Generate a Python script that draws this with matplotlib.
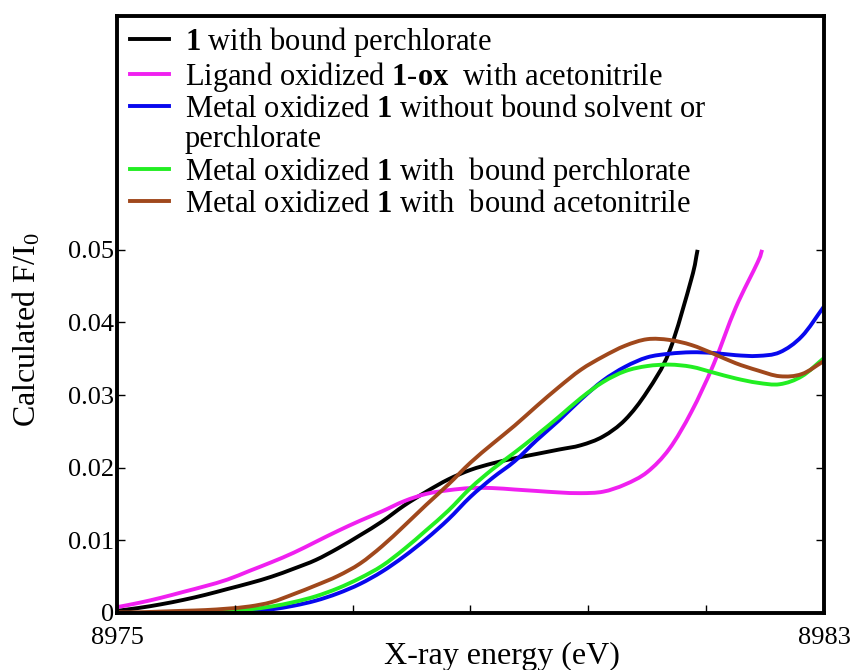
import numpy as np
import matplotlib
matplotlib.use("Agg")
import matplotlib.pyplot as plt
from matplotlib.lines import Line2D
from matplotlib.path import Path
from matplotlib.patches import PathPatch

plt.rcParams['font.family'] = ['Liberation Serif', 'DejaVu Serif']
plt.rcParams['mathtext.fontset'] = 'custom'
plt.rcParams['mathtext.rm'] = 'Liberation Serif'
plt.rcParams['mathtext.it'] = 'Liberation Serif:italic'
plt.rcParams['mathtext.bf'] = 'Liberation Serif:bold'

# ---------------- data ----------------
energy_grid = [8975.00, 8975.25, 8975.50, 8975.75, 8976.00, 8976.25, 8976.50, 8976.75,
               8977.00, 8977.25, 8977.50, 8977.75, 8978.00, 8978.25, 8978.50, 8978.75,
               8979.00, 8979.25, 8979.50, 8979.75, 8980.00, 8980.25, 8980.50, 8980.75,
               8981.00, 8981.25, 8981.50, 8981.75, 8982.00, 8982.25, 8982.50, 8982.75,
               8983.00]

black_x = energy_grid[:27] + [8981.57]
black_y = [0.0003, 0.0007, 0.0012, 0.0018, 0.0025, 0.0033, 0.0041, 0.0050,
           0.0061, 0.0073, 0.0089, 0.0107, 0.0126, 0.0148, 0.0167, 0.0184,
           0.0197, 0.0206, 0.0213, 0.0219, 0.0225, 0.0231, 0.0243, 0.0266,
           0.0305, 0.0360, 0.0460, 0.0500]

magenta_x = energy_grid[:30] + [8982.30]
magenta_y = [0.0008, 0.0014, 0.0021, 0.0029, 0.0037, 0.0046, 0.0058, 0.0070,
             0.0083, 0.0098, 0.0113, 0.0127, 0.0140, 0.0154, 0.0164, 0.0169,
             0.0172, 0.0172, 0.0170, 0.0168, 0.0166, 0.0165, 0.0167, 0.0177,
             0.0194, 0.0226, 0.0277, 0.0342, 0.0420, 0.0483, 0.0500]

blue_x = energy_grid
blue_y = [0.0000, 0.0000, 0.0000, 0.0000, 0.0001, 0.0001, 0.0002, 0.0005,
          0.0010, 0.0017, 0.0027, 0.0040, 0.0057, 0.0078, 0.0102, 0.0129,
          0.0160, 0.0186, 0.0209, 0.0238, 0.0265, 0.0294, 0.0320, 0.0339,
          0.0352, 0.0357, 0.0359, 0.0358, 0.0355, 0.0354, 0.0359, 0.0381,
          0.0422]

green_x = energy_grid
green_y = [0.0000, 0.0000, 0.0000, 0.0001, 0.0002, 0.0003, 0.0005, 0.0009,
           0.0015, 0.0023, 0.0034, 0.0048, 0.0065, 0.0088, 0.0114, 0.0141,
           0.0172, 0.0198, 0.0221, 0.0245, 0.0270, 0.0296, 0.0318, 0.0333,
           0.0340, 0.0342, 0.0339, 0.0331, 0.0323, 0.0317, 0.0315, 0.0326,
           0.0351]

brown_x = energy_grid
brown_y = [0.0001, 0.0001, 0.0002, 0.0003, 0.0004, 0.0006, 0.0009, 0.0015,
           0.0026, 0.0038, 0.0051, 0.0068, 0.0092, 0.0120, 0.0149, 0.0177,
           0.0207, 0.0233, 0.0258, 0.0285, 0.0311, 0.0335, 0.0353, 0.0368,
           0.0377, 0.0376, 0.0369, 0.0357, 0.0344, 0.0334, 0.0326, 0.0329,
           0.0347]

labels = [r'$\mathbf{1}$ with bound perchlorate',
          r'Ligand oxidized $\mathbf{1}$-$\mathbf{ox}$  with acetonitrile',
          r'Metal oxidized $\mathbf{1}$ without bound solvent or',
          'perchlorate',
          r'Metal oxidized $\mathbf{1}$ with  bound perchlorate',
          r'Metal oxidized $\mathbf{1}$ with  bound acetonitrile']

y_ticks = [0, 0.01, 0.02, 0.03, 0.04, 0.05]
y_tick_labels = ['0', '0.01', '0.02', '0.03', '0.04', '0.05']
x_ticks = [8975, 8975 + 4/3, 8975 + 8/3, 8979, 8975 + 16/3, 8975 + 20/3, 8983]
x_tick_labels = ['8975', '', '', '', '', '', '8983']


def smooth_curve(ax, xs, ys, color, lw):
    """Draw a smooth (Catmull-Rom / Bezier) curve through the read points."""
    p = np.column_stack([xs, ys]).astype(float)
    n = len(p)
    ext = np.vstack([p[0] - (p[1] - p[0]), p, p[-1] + (p[-1] - p[-2])])
    verts = [tuple(p[0])]
    codes = [Path.MOVETO]
    for i in range(n - 1):
        p0, p1, p2, p3 = ext[i], ext[i + 1], ext[i + 2], ext[i + 3]
        c1 = p1 + (p2 - p0) / 6.0
        c2 = p2 - (p3 - p1) / 6.0
        verts += [tuple(c1), tuple(c2), tuple(p2)]
        codes += [Path.CURVE4] * 3
    patch = PathPatch(Path(verts, codes), facecolor='none', edgecolor=color,
                      lw=lw, transform=ax.transData, capstyle='butt', joinstyle='round')
    ax.add_patch(patch)
    return Line2D([], [], color=color, lw=lw)


# ---------------- plot ----------------
fig = plt.figure(figsize=(8.55, 6.7), dpi=100)
ax = fig.add_axes([0.1368, 0.0851, 0.8269, 0.891])

lw = 2.8
c_black, c_mag, c_blue, c_green, c_brown = '#000000', '#f020f0', '#0808ee', '#22ee22', '#a0481c'
h1 = smooth_curve(ax, black_x, black_y, c_black, lw)
h2 = smooth_curve(ax, magenta_x, magenta_y, c_mag, lw)
h3 = smooth_curve(ax, blue_x, blue_y, c_blue, lw)
h4 = smooth_curve(ax, green_x, green_y, c_green, lw)
h5 = smooth_curve(ax, brown_x, brown_y, c_brown, lw)
blank = Line2D([], [], color='none')

ax.set_xlim(8975, 8983)
ax.set_ylim(0, 0.0822)
ax.set_yticks(y_ticks)
ax.set_yticklabels(y_tick_labels)
ax.set_xticks(x_ticks)
ax.set_xticklabels(x_tick_labels)
ax.tick_params(axis='both', direction='in', length=6, width=1.0, labelsize=19,
               right=True, top=False)
ax.tick_params(axis='y', pad=2)
ax.tick_params(axis='x', pad=10)

for s in ax.spines.values():
    s.set_linewidth(2.8)
    s.set_color('black')

ax.set_xlabel('X-ray energy (eV)', fontsize=23)
ax.xaxis.set_label_coords(0.545, -0.048)
ax.set_ylabel(r'Calculated F/I$_0$', fontsize=23)
ax.yaxis.set_label_coords(-0.106, 0.475)

leg = ax.legend([h1, h2, h3, blank, h4, h5], labels, loc='upper left',
                bbox_to_anchor=(0.018, 0.985), frameon=False, fontsize=22,
                handlelength=1.3, handletextpad=0.5, labelspacing=0.03,
                borderpad=0.0, borderaxespad=0.0)

fig.savefig('out.png', dpi=100)
